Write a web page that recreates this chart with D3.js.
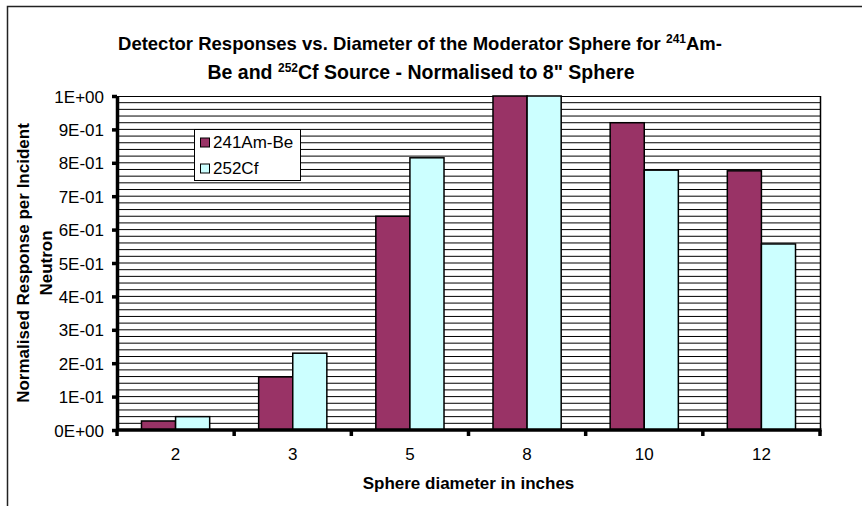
<!DOCTYPE html>
<html>
<head>
<meta charset="utf-8">
<script src="https://cdn.jsdelivr.net/npm/d3@7"></script>
<style>
  html, body { margin: 0; padding: 0; background: #fff; }
  svg { display: block; font-family: Arial, "Liberation Sans", sans-serif; }
</style>
</head>
<body>
<svg id="chart" width="862" height="506"></svg>
<script>
// ---- data ----
const categories = ["2", "3", "5", "8", "10", "12"];
const seriesNames = ["241Am-Be", "252Cf"];
const amBe = [0.027, 0.159, 0.64, 1.0, 0.92, 0.776];
const cf252 = [0.04, 0.23, 0.815, 1.0, 0.778, 0.557];
const yTickValues = [0, 0.1, 0.2, 0.3, 0.4, 0.5, 0.6, 0.7, 0.8, 0.9, 1.0];
const yTickLabels = ["0E+00", "1E-01", "2E-01", "3E-01", "4E-01", "5E-01", "6E-01", "7E-01", "8E-01", "9E-01", "1E+00"];
const colors = ["#993366", "#CCFFFF"];

const svg = d3.select("#chart");

// outer chart frame (extends beyond the right and bottom edges)
svg.append("rect")
  .attr("x", 7.5).attr("y", 6.5).attr("width", 960).attr("height", 600)
  .attr("fill", "none").attr("stroke", "#222").attr("stroke-width", 1.5);

const plot = { left: 117, right: 820, top: 96, bottom: 430 };

const x0 = d3.scaleBand().domain(categories).range([plot.left, plot.right]).paddingInner(0).paddingOuter(0);
const bw = x0.bandwidth();
const x1 = d3.scaleBand().domain(seriesNames).range([bw * 0.209, bw * 0.791]).padding(0);
const y = d3.scaleLinear().domain([0, 1]).range([plot.bottom, plot.top]);

// gridlines every 0.02
const gridVals = d3.range(0, 51).map(i => i / 50);
svg.append("g").selectAll("line").data(gridVals.filter(v => v > 0 && v < 1)).join("line")
  .attr("x1", plot.left).attr("x2", plot.right)
  .attr("y1", d => y(d)).attr("y2", d => y(d))
  .attr("stroke", "#000").attr("stroke-width", 1);

// plot border top & right
svg.append("line").attr("x1", plot.left).attr("x2", plot.right + 0.5)
  .attr("y1", plot.top + 0.5).attr("y2", plot.top + 0.5).attr("stroke", "#000").attr("stroke-width", 1.2);
svg.append("line").attr("x1", plot.right + 0.5).attr("x2", plot.right + 0.5)
  .attr("y1", plot.top).attr("y2", plot.bottom).attr("stroke", "#000").attr("stroke-width", 1.5);

// bars
const data = categories.map((c, i) => ({ cat: c, vals: [amBe[i], cf252[i]] }));
const groups = svg.append("g").selectAll("g").data(data).join("g")
  .attr("transform", d => `translate(${x0(d.cat)},0)`);
groups.selectAll("rect").data(d => d.vals.map((v, j) => ({ name: seriesNames[j], v, j }))).join("rect")
  .attr("x", d => x1(d.name))
  .attr("width", x1.bandwidth())
  .attr("y", d => y(d.v))
  .attr("height", d => y(0) - y(d.v))
  .attr("fill", d => colors[d.j])
  .attr("stroke", "#000").attr("stroke-width", 1.5);

// y axis
const yAxis = d3.axisLeft(y).tickValues(yTickValues)
  .tickFormat((d, i) => yTickLabels[i]).tickSizeOuter(0).tickSizeInner(5).tickPadding(8);
const gy = svg.append("g").attr("transform", `translate(${plot.left},0)`).call(yAxis);
gy.select(".domain").attr("stroke", "#000").attr("stroke-width", 3.5);
gy.selectAll(".tick line").attr("stroke", "#000").attr("stroke-width", 3.5);
gy.selectAll(".tick text").attr("font-size", 17).attr("fill", "#000")
  .attr("font-family", "Arial, 'Liberation Sans', sans-serif").attr("dy", "0.36em");

// x axis
const xAxis = d3.axisBottom(x0).tickSize(0).tickPadding(18);
const gx = svg.append("g").attr("transform", `translate(0,${plot.bottom})`).call(xAxis);
gx.select(".domain").attr("stroke", "#000").attr("stroke-width", 3.5).attr("d", `M${plot.left - 1},0H${plot.right + 1.5}`);
gx.selectAll(".tick text").attr("font-size", 17).attr("fill", "#000")
  .attr("font-family", "Arial, 'Liberation Sans', sans-serif");
// x axis ticks at band boundaries
const boundaries = categories.map(c => x0(c)).concat([plot.right]);
svg.append("g").selectAll("line").data(boundaries).join("line")
  .attr("x1", d => d).attr("x2", d => d)
  .attr("y1", plot.bottom).attr("y2", plot.bottom + 6)
  .attr("stroke", "#000").attr("stroke-width", 3.5);

// title
const title = svg.append("text").attr("text-anchor", "middle")
  .attr("font-weight", "bold").attr("font-size", 18.5).attr("fill", "#000");
const t1 = title.append("tspan").attr("x", 420).attr("y", 50);
t1.append("tspan").text("Detector Responses vs. Diameter of the Moderator Sphere for ");
t1.append("tspan").attr("font-size", 12).attr("dy", -7).text("241");
t1.append("tspan").attr("dy", 7).text("Am-");
const t2 = svg.append("text").attr("text-anchor", "middle")
  .attr("font-weight", "bold").attr("font-size", 19.5).attr("fill", "#000")
  .attr("x", 421).attr("y", 79);
t2.append("tspan").text("Be and ");
t2.append("tspan").attr("font-size", 12).attr("dy", -7).text("252");
t2.append("tspan").attr("dy", 7).text("Cf Source - Normalised to 8\" Sphere");

// axis titles
svg.append("text").attr("text-anchor", "middle").attr("font-weight", "bold").attr("font-size", 17)
  .attr("x", 468.5).attr("y", 489).text("Sphere diameter in inches");
const yt = svg.append("text").attr("text-anchor", "middle").attr("font-weight", "bold").attr("font-size", 17)
  .attr("transform", "translate(29,263) rotate(-90)");
yt.append("tspan").attr("x", 0).attr("y", 0).text("Normalised Response per Incident");
yt.append("tspan").attr("x", 0).attr("y", 23).text("Neutron");

// legend
const legend = svg.append("g");
legend.append("rect").attr("x", 194.5).attr("y", 129.5).attr("width", 106).attr("height", 51)
  .attr("fill", "#fff").attr("stroke", "#000").attr("stroke-width", 1);
const li = legend.selectAll("g").data(seriesNames).join("g")
  .attr("transform", (d, i) => `translate(200,${138 + i * 26})`);
li.append("rect").attr("x", 0.5).attr("y", 0).attr("width", 9).attr("height", 9)
  .attr("fill", (d, i) => colors[i]).attr("stroke", "#000").attr("stroke-width", 1);
li.append("text").attr("x", 13).attr("y", 10).attr("font-size", 17).attr("fill", "#000").text(d => d);
</script>
</body>
</html>
